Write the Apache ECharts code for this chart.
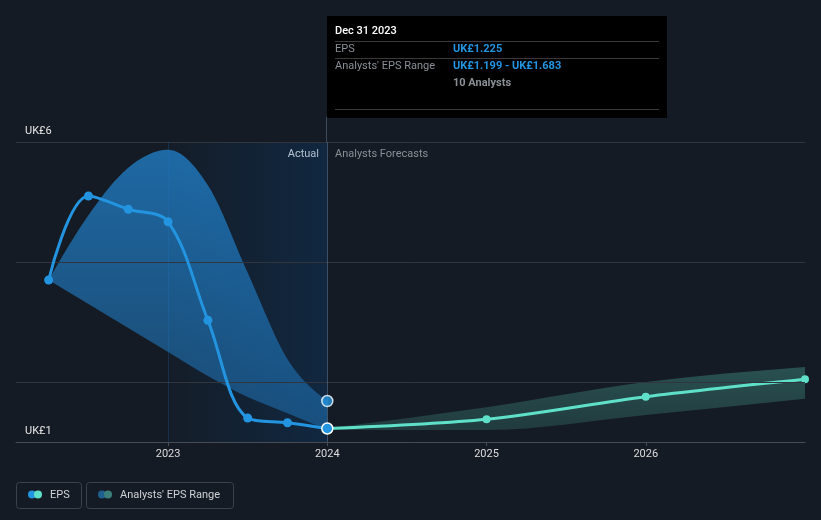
<!DOCTYPE html>
<html>
<head>
<meta charset="utf-8">
<script src="https://cdn.jsdelivr.net/npm/echarts@6/dist/echarts.min.js"></script>
<style>
html,body{margin:0;padding:0;background:#151b24;}
#c{width:821px;height:520px;}
</style>
</head>
<body>
<div id="c"></div>
<script>
// ---- data ----
const actualX = [2022.25, 2022.5, 2022.75, 2023.0, 2023.25, 2023.5, 2023.75, 2024.0];
const epsActual = [3.70, 5.10, 4.88, 4.67, 3.03, 1.40, 1.32, 1.225];
const rangeLowPast = [3.70, 3.30, 2.90, 2.50, 2.10, 1.75, 1.48, 1.199];
const rangeHighPast = [3.70, 4.78, 5.57, 5.87, 5.28, 3.82, 2.38, 1.683];
const forecastX = [2024.0, 2025.0, 2026.0, 2027.0];
const epsForecast = [1.225, 1.38, 1.755, 2.045];
const rangeLowFc = [1.20, 1.20, 1.45, 1.72];
const rangeHighFc = [1.23, 1.58, 2.00, 2.25];
const xTickYears = [2023, 2024, 2025, 2026];
const yTickValues = [1, 6];
const gridValues = [2, 4, 6];
const currency = 'UK£';

const FONT = 'Roboto, "Noto Sans", sans-serif';
const BLUE = '#2394df';
const TEAL = '#5fe0c8';

const pairs = (xs, ys) => xs.map((x, i) => [x, ys[i]]);

// monotone-x tangents for pixel points
function tangents(pts) {
  const n = pts.length;
  const h = [], s = [];
  for (let i = 0; i < n - 1; i++) {
    h.push(pts[i + 1][0] - pts[i][0]);
    s.push((pts[i + 1][1] - pts[i][1]) / (h[i] || 1));
  }
  const t = new Array(n).fill(0);
  for (let i = 1; i < n - 1; i++) {
    const s0 = s[i - 1], s1 = s[i], h0 = h[i - 1], h1 = h[i];
    const p = (s0 * h1 + s1 * h0) / (h0 + h1);
    t[i] = (Math.sign(s0) + Math.sign(s1)) * Math.min(Math.abs(s0), Math.abs(s1), 0.5 * Math.abs(p)) || 0;
  }
  if (n > 2) {
    t[0] = (3 * s[0] - t[1]) / 2;
    t[n - 1] = (3 * s[n - 2] - t[n - 2]) / 2;
  } else {
    t[0] = t[n - 1] = s[0];
  }
  return {h, t};
}

function forwardPath(pts) {
  const {h, t} = tangents(pts);
  let d = 'M' + pts[0][0] + ',' + pts[0][1];
  for (let i = 0; i < pts.length - 1; i++) {
    const dx = h[i] / 3;
    d += ' C' + (pts[i][0] + dx) + ',' + (pts[i][1] + t[i] * dx) + ' ' +
         (pts[i + 1][0] - dx) + ',' + (pts[i + 1][1] - t[i + 1] * dx) + ' ' +
         pts[i + 1][0] + ',' + pts[i + 1][1];
  }
  return d;
}

function backwardPath(pts) {
  const {h, t} = tangents(pts);
  const n = pts.length;
  let d = ' L' + pts[n - 1][0] + ',' + pts[n - 1][1];
  for (let i = n - 1; i > 0; i--) {
    const dx = h[i - 1] / 3;
    d += ' C' + (pts[i][0] - dx) + ',' + (pts[i][1] - t[i] * dx) + ' ' +
         (pts[i - 1][0] + dx) + ',' + (pts[i - 1][1] + t[i - 1] * dx) + ' ' +
         pts[i - 1][0] + ',' + pts[i - 1][1];
  }
  return d;
}

function bandSeries(xs, lo, hi, colors) {
  return {
    type: 'custom', silent: true, z: 2, clip: true,
    data: [[xs[0], lo[0]]],
    renderItem: function (params, api) {
      const up = xs.map((x, i) => api.coord([x, hi[i]]));
      const dn = xs.map((x, i) => api.coord([x, lo[i]]));
      return {
        type: 'path',
        shape: {pathData: forwardPath(up) + backwardPath(dn) + ' Z'},
        style: {fill: {type: 'linear', x: 0, y: 0, x2: 0, y2: 1, colorStops: [
          {offset: 0, color: colors[0]}, {offset: 1, color: colors[1]}]}, stroke: 'none'}
      };
    }
  };
}

const chart = echarts.init(document.getElementById('c'), null, {renderer: 'canvas'});

const option = {
  backgroundColor: '#151b24',
  animation: false,
  textStyle: {fontFamily: FONT},
  grid: {left: 16, right: 16, top: 142, bottom: 78, containLabel: false},
  xAxis: {
    type: 'value', min: 2022.045, max: 2027,
    splitLine: {show: false},
    axisLine: {show: true, lineStyle: {color: '#474c55', width: 1}},
    axisTick: {show: true, length: 4, customValues: xTickYears, lineStyle: {color: '#474c55'}},
    axisLabel: {customValues: xTickYears, formatter: v => String(v), color: '#dcdcdc', fontSize: 11, margin: 7, fontFamily: FONT}
  },
  yAxis: {
    type: 'value', min: 1, max: 6,
    splitLine: {show: false},
    axisLine: {show: false},
    axisTick: {show: false},
    axisLabel: {inside: true, customValues: yTickValues, formatter: v => currency + v, verticalAlign: 'bottom',
      color: '#e6e6e6', fontSize: 11, margin: 9, padding: [0, 0, 5, 0], fontFamily: FONT}
  },
  series: [
    { // actual shading + grid lines
      type: 'line', data: [], silent: true, z: 1,
      markArea: {
        silent: true,
        itemStyle: {color: {type: 'linear', x: 0, y: 0, x2: 1, y2: 0,
          colorStops: [{offset: 0, color: 'rgba(10,60,110,0.06)'}, {offset: 1, color: 'rgba(10,60,110,0.38)'}]}},
        data: [[{xAxis: 2023, yAxis: 1}, {xAxis: 2024, yAxis: 6}]]
      },
      markLine: {
        silent: true, symbol: 'none', label: {show: false},
        lineStyle: {color: '#30353e', type: 'solid', width: 1},
        data: gridValues.map(v => ({yAxis: v})).concat([
          {xAxis: 2023, lineStyle: {color: 'rgba(35,120,200,0.22)'}},
          {xAxis: 2024, lineStyle: {color: 'rgba(110,135,165,0.45)'}}
        ])
      }
    },
    bandSeries(actualX, rangeLowPast, rangeHighPast, ['rgba(35,145,230,0.66)', 'rgba(35,145,230,0.38)']),
    bandSeries(forecastX, rangeLowFc, rangeHighFc, ['rgba(95,224,200,0.27)', 'rgba(95,224,200,0.16)']),
    {
      name: 'EPS forecast', type: 'line', smooth: 0.3, silent: true, z: 4,
      symbol: 'circle', symbolSize: 8,
      lineStyle: {color: TEAL, width: 3}, itemStyle: {color: TEAL},
      data: pairs(forecastX, epsForecast)
    },
    {
      name: 'EPS', type: 'line', smooth: 0.35, silent: true, z: 5,
      symbol: 'circle', symbolSize: 9,
      lineStyle: {color: BLUE, width: 3}, itemStyle: {color: BLUE},
      data: pairs(actualX, epsActual).map((p, i, a) => i === a.length - 1
        ? {value: p, symbolSize: 11, itemStyle: {color: BLUE, borderColor: '#ffffff', borderWidth: 1.5}}
        : p)
    },
    {
      name: 'range high', type: 'scatter', silent: true, z: 6, symbolSize: 11,
      itemStyle: {color: BLUE, borderColor: '#ffffff', borderWidth: 1.5},
      data: [[actualX[actualX.length - 1], rangeHighPast[rangeHighPast.length - 1]]]
    }
  ],
  graphic: [
    {type: 'line', shape: {x1: 326.5, y1: 117, x2: 326.5, y2: 142}, style: {stroke: 'rgba(110,135,165,0.45)', lineWidth: 1}, silent: true},
    {type: 'rect', shape: {x: 327, y: 16, width: 340, height: 102}, style: {fill: '#000000'}, silent: true},
    {type: 'text', x: 335, y: 31, style: {text: 'Dec 31 2023', fill: '#ffffff', font: '500 11px ' + FONT, verticalAlign: 'middle'}},
    {type: 'line', shape: {x1: 335, y1: 41.5, x2: 659, y2: 41.5}, style: {stroke: '#3a3a3a', lineWidth: 1}},
    {type: 'text', x: 335, y: 49, style: {text: 'EPS', fill: '#8a8f96', font: '11px ' + FONT, verticalAlign: 'middle'}},
    {type: 'text', x: 453, y: 49, style: {text: currency + '1.225', fill: '#2394df', font: 'bold 11px ' + FONT, verticalAlign: 'middle'}},
    {type: 'line', shape: {x1: 335, y1: 58.5, x2: 659, y2: 58.5}, style: {stroke: '#3a3a3a', lineWidth: 1}},
    {type: 'text', x: 335, y: 66, style: {text: "Analysts' EPS Range", fill: '#8a8f96', font: '11px ' + FONT, verticalAlign: 'middle'}},
    {type: 'text', x: 453, y: 66, style: {text: currency + '1.199 - ' + currency + '1.683', fill: '#2394df', font: 'bold 11px ' + FONT, verticalAlign: 'middle'}},
    {type: 'text', x: 453, y: 83, style: {text: '10 Analysts', fill: '#8a8f96', font: 'bold 11px ' + FONT, verticalAlign: 'middle'}},
    {type: 'line', shape: {x1: 335, y1: 109.5, x2: 659, y2: 109.5}, style: {stroke: '#3a3a3a', lineWidth: 1}},
    {type: 'text', x: 319, y: 154, style: {text: 'Actual', fill: '#ffffff', font: '11px ' + FONT, align: 'right', verticalAlign: 'middle'}},
    {type: 'text', x: 335, y: 154, style: {text: 'Analysts Forecasts', fill: '#8a8f96', font: '11px ' + FONT, align: 'left', verticalAlign: 'middle'}},
    // legend
    {type: 'rect', shape: {x: 16.5, y: 482.5, width: 65, height: 26, r: 3}, style: {fill: 'none', stroke: '#3c414b', lineWidth: 1}},
    {type: 'circle', shape: {cx: 32, cy: 494.5, r: 4}, style: {fill: BLUE}},
    {type: 'circle', shape: {cx: 38, cy: 494.5, r: 4}, style: {fill: TEAL}},
    {type: 'text', x: 50, y: 495, style: {text: 'EPS', fill: '#cfd2d6', font: '11px ' + FONT, verticalAlign: 'middle'}},
    {type: 'rect', shape: {x: 86.5, y: 482.5, width: 147, height: 26, r: 3}, style: {fill: 'none', stroke: '#3c414b', lineWidth: 1}},
    {type: 'circle', shape: {cx: 102, cy: 494.5, r: 4}, style: {fill: '#1f5f8f'}},
    {type: 'circle', shape: {cx: 108, cy: 494.5, r: 4}, style: {fill: '#3c7f7a'}},
    {type: 'text', x: 120, y: 495, style: {text: "Analysts' EPS Range", fill: '#cfd2d6', font: '11px ' + FONT, verticalAlign: 'middle'}}
  ]
};
chart.setOption(option);
</script>
</body>
</html>
